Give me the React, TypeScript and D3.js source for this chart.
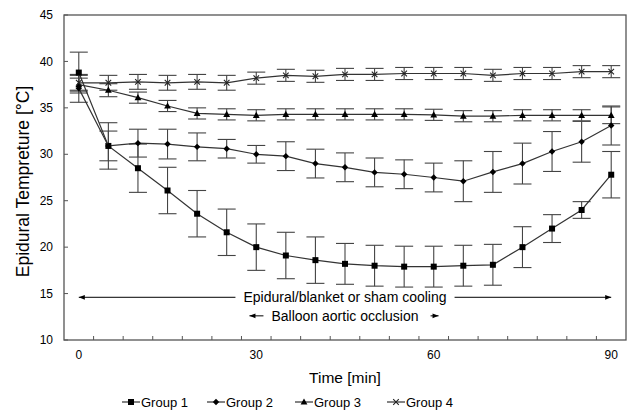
import React, { useEffect, useRef } from 'react';
import * as d3 from 'd3';

// time points (min)
const times = [0, 5, 10, 15, 20, 25, 30, 35, 40, 45, 50, 55, 60, 65, 70, 75, 80, 85, 90];

// mean epidural temperature per group, with SD
const group1 = [38.8, 30.9, 28.5, 26.1, 23.6, 21.6, 20.0, 19.1, 18.6, 18.2, 18.0, 17.9, 17.9, 18.0, 18.1, 20.0, 22.0, 24.0, 27.8];
const group1Sd = [2.2, 2.5, 2.6, 2.5, 2.5, 2.5, 2.5, 2.5, 2.5, 2.2, 2.2, 2.2, 2.2, 2.2, 2.2, 2.2, 1.5, 0.9, 2.5];
const group2 = [37.1, 30.9, 31.2, 31.1, 30.8, 30.6, 30.0, 29.8, 29.0, 28.6, 28.05, 27.85, 27.5, 27.1, 28.1, 29.0, 30.3, 31.35, 33.1];
const group2Sd = [1.5, 1.6, 1.5, 1.6, 1.5, 1.0, 0.95, 1.55, 1.55, 1.55, 1.55, 1.55, 1.55, 2.2, 2.2, 2.2, 2.15, 2.2, 2.1];
const group3 = [37.5, 36.9, 36.1, 35.2, 34.4, 34.3, 34.2, 34.3, 34.3, 34.3, 34.3, 34.3, 34.25, 34.1, 34.1, 34.2, 34.2, 34.2, 34.2];
const group3Sd = [0.7, 0.7, 0.6, 0.6, 0.6, 0.6, 0.6, 0.6, 0.6, 0.6, 0.6, 0.6, 0.6, 0.6, 0.6, 0.6, 0.6, 0.6, 0.9];
const group4 = [37.7, 37.7, 37.8, 37.7, 37.8, 37.7, 38.2, 38.5, 38.4, 38.6, 38.6, 38.7, 38.7, 38.7, 38.5, 38.7, 38.7, 38.9, 38.9];
const group4Sd = [0.8, 0.8, 0.8, 0.8, 0.8, 0.8, 0.65, 0.65, 0.65, 0.65, 0.65, 0.65, 0.65, 0.65, 0.65, 0.65, 0.65, 0.65, 0.65];

const groupNames = ['Group 1', 'Group 2', 'Group 3', 'Group 4'];
const markers = ['square', 'diamond', 'triangle', 'cross'];

const yTicks = [10, 15, 20, 25, 30, 35, 40, 45];
const xLabels = [0, 30, 60, 90];

const W = 630, H = 413;
const FONT = 'Arial, "Liberation Sans", sans-serif';

function drawMarker(g: any, type: string, x: number, y: number) {
  if (type === 'square') {
    g.append('rect').attr('x', x - 3).attr('y', y - 3).attr('width', 6).attr('height', 6).attr('fill', '#000');
  } else if (type === 'diamond') {
    g.append('path').attr('d', `M${x},${y - 3.2}L${x + 3.2},${y}L${x},${y + 3.2}L${x - 3.2},${y}Z`).attr('fill', '#000');
  } else if (type === 'triangle') {
    g.append('path').attr('d', `M${x},${y - 3.6}L${x + 3.4},${y + 2.6}L${x - 3.4},${y + 2.6}Z`).attr('fill', '#000');
  } else {
    g.append('path').attr('d', `M${x - 2.8},${y - 2.8}L${x + 2.8},${y + 2.8}M${x - 2.8},${y + 2.8}L${x + 2.8},${y - 2.8}`)
      .attr('stroke', '#222').attr('stroke-width', 1.1);
  }
}

export default function App() {
  const ref = useRef<SVGSVGElement>(null);

  useEffect(() => {
    const svg = d3.select(ref.current);
    svg.selectAll('*').remove();

    // category style axis: ticks sit between the time points
    const x = d3.scaleLinear().domain([-2.5, 92.5]).range([64, 626]);
    const y = d3.scaleLinear().domain([10, 45]).range([340, 15]);

    const series = [
      { v: group1, sd: group1Sd },
      { v: group2, sd: group2Sd },
      { v: group3, sd: group3Sd },
      { v: group4, sd: group4Sd },
    ];

    // frame
    svg.append('rect')
      .attr('x', x(-2.5)).attr('y', y(45))
      .attr('width', x(92.5) - x(-2.5)).attr('height', y(10) - y(45))
      .attr('fill', 'none').attr('stroke', '#555').attr('stroke-width', 1.3);

    // y ticks + labels
    const yAxis = svg.append('g');
    yTicks.forEach((t) => {
      yAxis.append('line').attr('x1', x(-2.5)).attr('x2', x(-2.5) + 4)
        .attr('y1', y(t)).attr('y2', y(t)).attr('stroke', '#555');
      yAxis.append('text').attr('x', 53).attr('y', y(t)).attr('dy', '0.35em')
        .attr('text-anchor', 'end').attr('font-size', 12).attr('font-family', FONT).text(t);
    });

    // x ticks between categories
    const xAxis = svg.append('g');
    d3.range(1, times.length).forEach((k) => {
      const tx = x(times[k] - 2.5);
      xAxis.append('line').attr('x1', tx).attr('x2', tx)
        .attr('y1', y(10)).attr('y2', y(10) - 4).attr('stroke', '#555');
    });
    xLabels.forEach((t) => {
      xAxis.append('text').attr('x', x(t)).attr('y', 359)
        .attr('text-anchor', 'middle').attr('font-size', 12).attr('font-family', FONT).text(t);
    });

    svg.append('text').attr('x', 345).attr('y', 383).attr('text-anchor', 'middle')
      .attr('font-size', 15.5).attr('font-family', FONT).text('Time [min]');
    svg.append('text').attr('transform', `translate(29,${(y(10) + y(45)) / 2 + 4}) rotate(-90)`)
      .attr('text-anchor', 'middle').attr('font-size', 17.5).attr('font-family', FONT)
      .text('Epidural Tempreture [°C]');

    // error bars
    const eb = svg.append('g').attr('stroke', '#444').attr('stroke-width', 1.1);
    series.forEach((s) => {
      s.v.forEach((v, i) => {
        const cx = x(times[i]);
        const y1 = y(v + s.sd[i]), y2 = y(v - s.sd[i]);
        eb.append('line').attr('x1', cx).attr('x2', cx).attr('y1', y1).attr('y2', y2);
        eb.append('line').attr('x1', cx - 9).attr('x2', cx + 9).attr('y1', y1).attr('y2', y1);
        eb.append('line').attr('x1', cx - 9).attr('x2', cx + 9).attr('y1', y2).attr('y2', y2);
      });
    });

    // lines + markers
    const line = d3.line<number>().x((_, i) => x(times[i])).y((d) => y(d));
    series.forEach((s, gi) => {
      svg.append('path').attr('d', line(s.v)).attr('fill', 'none')
        .attr('stroke', '#333').attr('stroke-width', 1.2);
      const mg = svg.append('g');
      s.v.forEach((v, i) => drawMarker(mg, markers[gi], x(times[i]), y(v)));
    });

    // annotations
    const defs = svg.append('defs');
    defs.append('marker').attr('id', 'ah').attr('viewBox', '0 0 10 10').attr('refX', 10).attr('refY', 5)
      .attr('markerWidth', 7).attr('markerHeight', 6).attr('orient', 'auto-start-reverse')
      .append('path').attr('d', 'M0,1L10,5L0,9Z').attr('fill', '#000');

    const ann = svg.append('g').attr('font-family', FONT).attr('font-size', 14);
    const a1y = y(14.6);
    const t1 = ann.append('text').attr('x', x(45)).attr('y', a1y).attr('dy', '0.35em')
      .attr('text-anchor', 'middle').text('Epidural/blanket or sham cooling');
    const b1 = (t1.node() as SVGTextElement).getBBox();
    ann.append('line').attr('x1', b1.x - 8).attr('x2', x(0)).attr('y1', a1y).attr('y2', a1y)
      .attr('stroke', '#000').attr('marker-end', 'url(#ah)');
    ann.append('line').attr('x1', b1.x + b1.width + 8).attr('x2', x(90)).attr('y1', a1y).attr('y2', a1y)
      .attr('stroke', '#000').attr('marker-end', 'url(#ah)');

    const a2y = y(12.6);
    const t2 = ann.append('text').attr('x', x(45)).attr('y', a2y).attr('dy', '0.35em')
      .attr('text-anchor', 'middle').text('Balloon aortic occlusion');
    const b2 = (t2.node() as SVGTextElement).getBBox();
    ann.append('line').attr('x1', b2.x - 8).attr('x2', b2.x - 22).attr('y1', a2y).attr('y2', a2y)
      .attr('stroke', '#000').attr('marker-end', 'url(#ah)');
    ann.append('line').attr('x1', b2.x + b2.width + 12).attr('x2', b2.x + b2.width + 20).attr('y1', a2y).attr('y2', a2y)
      .attr('stroke', '#000').attr('marker-end', 'url(#ah)');

    // legend
    const legX = [122, 207, 295, 387];
    const leg = svg.append('g').attr('font-family', FONT).attr('font-size', 13);
    groupNames.forEach((name, gi) => {
      const lx = legX[gi], ly = 402;
      leg.append('line').attr('x1', lx).attr('x2', lx + 18).attr('y1', ly).attr('y2', ly)
        .attr('stroke', '#333').attr('stroke-width', 1.2);
      drawMarker(leg, markers[gi], lx + 9, ly);
      leg.append('text').attr('x', lx + 19).attr('y', ly).attr('dy', '0.35em').text(name);
    });
  }, []);

  return (
    <svg ref={ref} width={W} height={H}
      style={{ position: 'absolute', left: 0, top: 0, background: '#fff' }} />
  );
}
